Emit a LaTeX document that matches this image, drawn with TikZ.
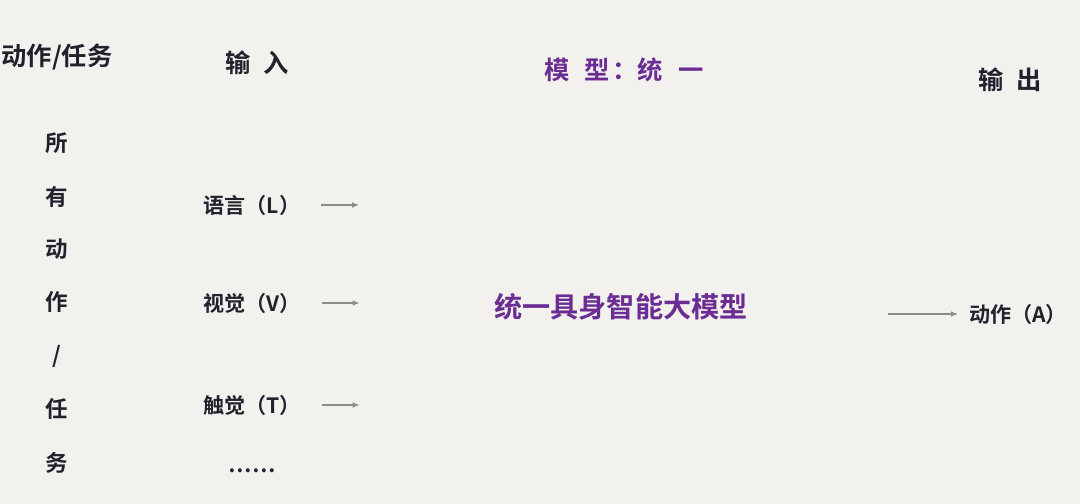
\documentclass[tikz,border=0pt]{standalone}
\usepackage{fontspec}
\setmainfont{Noto Sans CJK SC}[BoldFont={Noto Sans CJK SC Bold}]
\usetikzlibrary{arrows.meta}
\definecolor{inkdark}{HTML}{22222E}
\definecolor{modelpurple}{HTML}{6B2D94}
\definecolor{arrowgray}{HTML}{8C8C84}
\definecolor{paper}{HTML}{F3F1ED}
\tikzset{
  head/.style={text=inkdark,font=\bfseries\fontsize{18}{20}\selectfont},
  modal/.style={text=inkdark,font=\bfseries\fontsize{15}{17}\selectfont},
  flow/.style={draw=arrowgray,line width=1.1pt,-{Latex[length=5pt,width=4pt]}},
}

\begin{document}
\begin{tikzpicture}[x=0.025cm,y=-0.025cm]
\fill[paper] (0,0) rectangle (1080,504);
\useasboundingbox (0,0) rectangle (1080,504);

% column headers
\node[head](task) at (57,57) {动作/任务};
\node[head](in) at (257,63) {输\hspace{.5em}入};
\node[head,text=modelpurple](unify) at (624,70) {模\hspace{.6em}型\hspace{.1em}：统\hspace{.6em}一};
\node[head](out) at (1010,80) {输\hspace{.5em}出};

% all actions / tasks, written top to bottom
\foreach \ch/\y [count=\i] in {所/143,有/197,动/249,作/302,{/}/356,任/409,务/463}
  \node[head,font=\bfseries\fontsize{16}{18}\selectfont](t\i) at (57,\y) {\ch};

% inputs
\node[modal](lang) at (252,205) {语言（L）};
\node[modal](vis) at (252,303) {视觉（V）};
\node[modal](touch) at (252,405) {触觉（T）};
\node[modal](more) at (252,471) {……};

\draw[flow] ([xshift=0.4cm]lang.east) -- ++(38,0) coordinate (langend);
\draw[flow] ([xshift=0.4cm]vis.east) -- ++(38,0) coordinate (visend);
\draw[flow] ([xshift=0.4cm]touch.east) -- ++(38,0) coordinate (touchend);

% model
\node[text=modelpurple,font=\bfseries\fontsize{20}{22}\selectfont](model) at (621,307) {统一具身智能大模型};

% output
\node[modal](act) at (1018,314) {动作（A）};
\path ([xshift=-0.15cm]act.west) coordinate (actend) ++(-70,0) coordinate (actstart);
\draw[flow] (actstart) -- (actend);
\end{tikzpicture}
\end{document}
